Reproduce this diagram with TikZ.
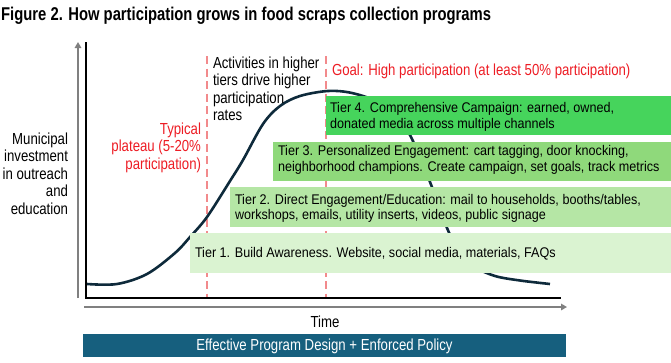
\documentclass[tikz,border=0pt]{standalone}
\usepackage{fontspec}
\setmainfont{Liberation Sans}
\newfontfamily\bodyfont[FakeStretch=0.825]{Liberation Sans}
\newfontfamily\tierfont[FakeStretch=0.9]{Liberation Sans}
\newfontfamily\titlefont[FakeStretch=0.8]{Liberation Sans}
\usetikzlibrary{arrows.meta}
\definecolor{tierfour}{HTML}{46D45C}
\definecolor{tierthree}{HTML}{8FD97B}
\definecolor{tiertwo}{HTML}{B5E6A5}
\definecolor{tierone}{HTML}{DAF3D1}
\definecolor{barblue}{HTML}{165F7E}
\definecolor{curveblue}{HTML}{0E2A3B}
\definecolor{txtred}{HTML}{ED1C24}
\definecolor{dashred}{HTML}{F28A8C}
\definecolor{axisgray}{HTML}{808080}
\newcommand{\mlines}[2][l]{\begin{tabular}[t]{@{}#1@{}}#2\end{tabular}}
\begin{document}
\begin{tikzpicture}[x=1pt,y=-1pt,
  bodytxt/.style={font=\bodyfont\fontsize{16}{17.5}\selectfont, inner sep=0pt, outer sep=0pt},
  tiertxt/.style={font=\tierfont\fontsize{14}{15.6}\selectfont, inner sep=0pt, outer sep=0pt, anchor=base west},
  tierbox/.style={inner sep=0pt, outer sep=0pt, anchor=north west, draw=none},
  guide/.style={dashred, line width=1.4pt, dash pattern=on 8pt off 4.5pt},
  blackaxis/.style={black, line width=2pt},
  grayaxis/.style={axisgray, line width=2.4pt, -{Triangle[width=6.5pt,length=6pt]}}
]
\useasboundingbox (0,0) rectangle (671,362);

% title
\node[font=\titlefont\bfseries\fontsize{18.5}{20}\selectfont, inner sep=0pt, anchor=base west] (title) at (1,20)
  {Figure 2. How participation grows in food scraps collection programs};

% dashed guides
\coordinate (g1top) at (207,56);
\coordinate (g1bot) at (207,298);
\coordinate (g2top) at (326,56);
\coordinate (g2bot) at (326,298);
\draw[guide] (g1top) -- (g1bot);
\draw[guide] (g2top) -- (g2bot);

% participation curve
\draw[curveblue, line width=2.6pt] plot[smooth, tension=0.55] coordinates {
  (87,284) (117,284) (147,274) (175,253) (190,237) (207,217) (230,181) (243,160)
  (263,124) (280,106) (300,96) (328,91) (352,93) (378,102) (397,117) (411,137)
  (430,182) (447,228) (460,252) (475,267) (495,276) (520,280.5) (550,284)};

% tier boxes
\node[tierbox, fill=tierfour, minimum width=345pt, minimum height=39pt] (t4box) at (326,96) {};
\node[tierbox, fill=tierthree, minimum width=398pt, minimum height=39pt] (t3box) at (273,142) {};
\node[tierbox, fill=tiertwo, minimum width=441pt, minimum height=40pt] (t2box) at (230,187) {};
\node[tierbox, fill=tierone, minimum width=481pt, minimum height=40pt] (t1box) at (190,233) {};

\node[tiertxt] (t4txt) at (330,112.7) {\mlines{Tier 4. Comprehensive Campaign: earned, owned,\\donated media across multiple channels}};
\node[tiertxt] (t3txt) at (278,155.5) {\mlines{Tier 3. Personalized Engagement: cart tagging, door knocking,\\neighborhood champions. Create campaign, set goals, track metrics}};
\node[tiertxt] (t2txt) at (235,204) {\mlines{Tier 2. Direct Engagement/Education: mail to households, booths/tables,\\workshops, emails, utility inserts, videos, public signage}};
\node[tiertxt] (t1txt) at (195,257.7) {Tier 1. Build Awareness. Website, social media, materials, FAQs};

% annotations
\node[bodytxt, anchor=base east] (ylabel) at (68,144) {\mlines[r]{Municipal\\investment\\in outreach\\and\\education}};
\node[bodytxt, anchor=base east, text=txtred] (plateau) at (201,134.3) {\mlines[r]{Typical\\plateau (5-20\%\\participation)}};
\node[bodytxt, anchor=base west] (activities) at (213,68.3) {\mlines{Activities in higher\\tiers drive higher\\participation\\rates}};
\node[bodytxt, anchor=base west, text=txtred] (goal) at (332,75) {Goal: High participation (at least 50\% participation)};

% axes
\coordinate (origin) at (86,298);
\coordinate (ytop) at (86,42);
\coordinate (xend) at (561,298);
\draw[blackaxis] (ytop) -- (origin) -- (xend);
\coordinate (gyb) at (78,298);
\coordinate (gyt) at (78,42);
\coordinate (gxl) at (84,307);
\coordinate (gxr) at (567,307);
\draw[grayaxis] (gyb) -- (gyt);
\draw[grayaxis] (gxl) -- (gxr);

\node[bodytxt, anchor=base] (time) at (325,327.7) {Time};

% bottom bar
\node[inner sep=0pt, outer sep=0pt, anchor=north west, fill=barblue, minimum width=483pt, minimum height=23pt] (bar) at (83,334) {};
\node[bodytxt, anchor=base, text=white] (bartxt) at (324.5,350.7) {Effective Program Design + Enforced Policy};
\end{tikzpicture}
\end{document}
